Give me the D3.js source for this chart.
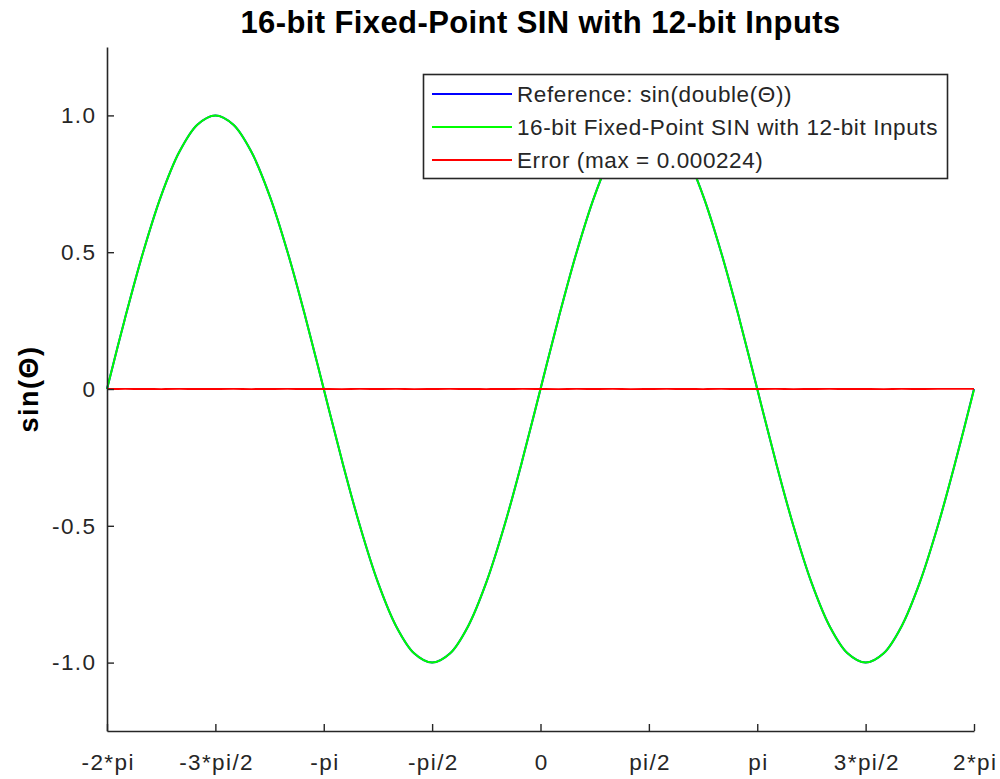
<!DOCTYPE html>
<html>
<head>
<meta charset="utf-8">
<script src="https://cdn.jsdelivr.net/npm/d3@7"></script>
<style>
  html, body { margin: 0; padding: 0; background: #ffffff; }
  svg { display: block; font-family: "Liberation Sans", Arial, Helvetica, sans-serif; }
</style>
</head>
<body>
<svg id="chart" width="1000" height="779"></svg>
<script>
// ---- data (theta in multiples of pi) ----
const thetaPi = [
  -2.0000, -1.9167, -1.8333, -1.7500, -1.6667, -1.5833, -1.5000, -1.4167, -1.3333, -1.2500,
  -1.1667, -1.0833, -1.0000, -0.9167, -0.8333, -0.7500, -0.6667, -0.5833, -0.5000, -0.4167,
  -0.3333, -0.2500, -0.1667, -0.0833, 0.0000, 0.0833, 0.1667, 0.2500, 0.3333, 0.4167,
  0.5000, 0.5833, 0.6667, 0.7500, 0.8333, 0.9167, 1.0000, 1.0833, 1.1667, 1.2500,
  1.3333, 1.4167, 1.5000, 1.5833, 1.6667, 1.7500, 1.8333, 1.9167, 2.0000
];
const referenceValues = [
  0.000, 0.259, 0.500, 0.707, 0.866, 0.966, 1.000, 0.966, 0.866, 0.707,
  0.500, 0.259, 0.000, -0.259, -0.500, -0.707, -0.866, -0.966, -1.000, -0.966,
  -0.866, -0.707, -0.500, -0.259, 0.000, 0.259, 0.500, 0.707, 0.866, 0.966,
  1.000, 0.966, 0.866, 0.707, 0.500, 0.259, 0.000, -0.259, -0.500, -0.707,
  -0.866, -0.966, -1.000, -0.966, -0.866, -0.707, -0.500, -0.259, 0.000
];
const fixedPointValues = [
  0.000, 0.259, 0.500, 0.707, 0.866, 0.966, 1.000, 0.966, 0.866, 0.707,
  0.500, 0.259, 0.000, -0.259, -0.500, -0.707, -0.866, -0.966, -1.000, -0.966,
  -0.866, -0.707, -0.500, -0.259, 0.000, 0.259, 0.500, 0.707, 0.866, 0.966,
  1.000, 0.966, 0.866, 0.707, 0.500, 0.259, 0.000, -0.259, -0.500, -0.707,
  -0.866, -0.966, -1.000, -0.966, -0.866, -0.707, -0.500, -0.259, -0.002
];
const errorValues = [
  0.0000, 0.0001, 0.0000, -0.0001, 0.0001, 0.0000, 0.0000, 0.0001, -0.0001, 0.0000,
  0.0001, 0.0000, 0.0000, -0.0001, 0.0001, 0.0000, 0.0001, -0.0001, 0.0000, 0.0001,
  0.0000, -0.0001, 0.0000, 0.0001, 0.0000, -0.0001, 0.0001, 0.0000, 0.0001, -0.0001,
  0.0000, 0.0001, 0.0000, -0.0001, 0.0001, 0.0000, 0.0000, 0.0001, -0.0001, 0.0000,
  0.0001, 0.0000, 0.0000, -0.0001, 0.0001, 0.0000, 0.0001, 0.0002, 0.0002
];
const xTickValues = [-2, -1.5, -1, -0.5, 0, 0.5, 1, 1.5, 2];
const xTickLabels = ["-2*pi", "-3*pi/2", "-pi", "-pi/2", "0", "pi/2", "pi", "3*pi/2", "2*pi"];
const yTickValues = [-1, -0.5, 0, 0.5, 1];
const yTickLabels = ["-1.0", "-0.5", "0", "0.5", "1.0"];
const seriesNames = ["Reference: sin(double(\u0398))", "16-bit Fixed-Point SIN with 12-bit Inputs", "Error (max = 0.000224)"];
const seriesColors = ["#0000ff", "#00ff00", "#ff0000"];
const titleText = "16-bit Fixed-Point SIN with 12-bit Inputs";
const yLabelText = "sin(\u0398)";

// ---- layout ----
const W = 1000, H = 779;
const m = { left: 107, right: 26, top: 47, bottom: 48 };
const axisColor = "#262626";

const svg = d3.select("#chart");
const x = d3.scaleLinear().domain([-2, 2]).range([m.left, W - m.right]);
const y = d3.scaleLinear().domain([-1.25, 1.25]).range([H - m.bottom, m.top]);

// series
const seriesData = [referenceValues, fixedPointValues, errorValues];
const widths = [2, 2, 1.8];
const line = d3.line()
  .x((d, i) => x(thetaPi[i]))
  .y(d => y(d))
  .curve(d3.curveCatmullRom.alpha(0.5));

seriesData.forEach((vals, k) => {
  svg.append("path")
    .datum(vals)
    .attr("d", line)
    .attr("fill", "none")
    .attr("stroke", seriesColors[k])
    .attr("stroke-width", widths[k])
    .attr("stroke-linejoin", "round");
});

// axes
const xAxis = d3.axisBottom(x)
  .tickValues(xTickValues)
  .tickFormat((d, i) => xTickLabels[i])
  .tickSizeInner(-7).tickSizeOuter(0).tickPadding(23);
const gx = svg.append("g").attr("transform", `translate(0,${H - m.bottom})`).call(xAxis);

const yAxis = d3.axisLeft(y)
  .tickValues(yTickValues)
  .tickFormat((d, i) => yTickLabels[yTickValues.indexOf(d)])
  .tickSizeInner(-7).tickSizeOuter(0).tickPadding(12);
const gy = svg.append("g").attr("transform", `translate(${m.left},0)`).call(yAxis);

[gx, gy].forEach(g => {
  g.select(".domain").attr("stroke", axisColor).attr("stroke-width", 1.6);
  g.selectAll(".tick line").attr("stroke", axisColor).attr("stroke-width", 1.4);
  g.selectAll(".tick text")
    .attr("fill", axisColor)
    .style("font-family", "'Liberation Sans', Arial, sans-serif")
    .style("font-size", "22.5px")
    .style("letter-spacing", "1.4px");
});
// compensate trailing letter-spacing for centered x labels
gx.selectAll(".tick text").attr("dx", "0.7px");
gy.selectAll(".tick text").attr("dx", "1.4px");

// title
svg.append("text")
  .attr("x", (m.left + W - m.right) / 2)
  .attr("y", 33)
  .attr("text-anchor", "middle")
  .attr("fill", "#000")
  .style("font-weight", "bold")
  .style("font-size", "31px")
  .style("letter-spacing", "0.4px")
  .text(titleText);

// y label
svg.append("text")
  .attr("transform", `translate(38,${y(0)}) rotate(-90)`)
  .attr("text-anchor", "middle")
  .attr("fill", "#000")
  .style("font-weight", "bold")
  .style("font-size", "27px")
  .style("letter-spacing", "1.5px")
  .text(yLabelText);

// legend
const lg = svg.append("g");
lg.append("rect")
  .attr("x", 423.5).attr("y", 74.5)
  .attr("width", 524).attr("height", 104)
  .attr("fill", "#fff")
  .attr("stroke", axisColor)
  .attr("stroke-width", 1.6);
const rowY = [94, 127, 160];
seriesNames.forEach((name, k) => {
  lg.append("line")
    .attr("x1", 432).attr("x2", 512)
    .attr("y1", rowY[k]).attr("y2", rowY[k])
    .attr("stroke", seriesColors[k])
    .attr("stroke-width", 2);
  lg.append("text")
    .attr("x", 517)
    .attr("y", rowY[k])
    .attr("dy", "0.35em")
    .attr("fill", axisColor)
    .style("font-size", "22.5px")
    .style("letter-spacing", "0.6px")
    .text(name);
});
</script>
</body>
</html>
